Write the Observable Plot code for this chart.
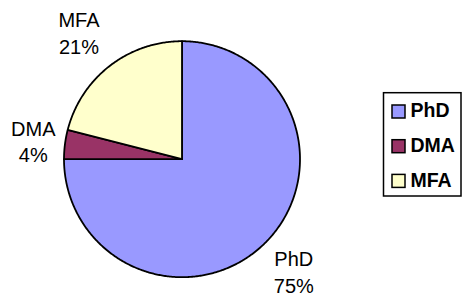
<!DOCTYPE html>
<html><head><meta charset="utf-8">
<script src="https://cdn.jsdelivr.net/npm/d3@7"></script>
<script src="https://cdn.jsdelivr.net/npm/@observablehq/plot@0.6"></script>
<style>body{margin:0;background:#fff}</style>
</head><body><div id="chart"></div>
<script>
// ---- data ----
const categories = ["PhD", "DMA", "MFA"];
const shares = [75, 4, 21];
const shareLabels = ["75%", "4%", "21%"];
const colors = ["#9999FF", "#993366", "#FFFFCC"];

// ---- layout ----
const W = 462, H = 300;
const CX = 181.5, CY = 158.7, R = 118;
const labelDist = [1.34, 1.27, 1.387];
const labelTurn = [0, 0, -1.2]; // degrees
const ux = p => (p - CX) / R;
const uy = p => (CY - p) / R;

const data = categories.map((name, i) => ({name, share: shares[i], label: shareLabels[i], i}));
const arcs = d3.pie().sort(null).value(d => d.share)(data);

const pts = [];
for (const a of arcs) {
  pts.push({name: a.data.name, x: 0, y: 0});
  const n = Math.max(4, Math.ceil((a.endAngle - a.startAngle) / 0.01));
  for (let k = 0; k <= n; k++) {
    const t = a.startAngle + (a.endAngle - a.startAngle) * k / n;
    pts.push({name: a.data.name, x: Math.sin(t), y: Math.cos(t)});
  }
  pts.push({name: a.data.name, x: 0, y: 0});
}
const labelData = arcs.map((a, i) => {
  const m = (a.startAngle + a.endAngle) / 2 + labelTurn[i] * Math.PI / 180;
  return {text: a.data.name + "\n" + a.data.label, x: labelDist[i] * Math.sin(m), y: labelDist[i] * Math.cos(m)};
});

const legTop = 110.5, legStep = 34.7;
const plot = Plot.plot({
  width: W, height: H, margin: 0,
  style: {fontFamily: "'Liberation Sans', Arial, sans-serif", background: "#fff", overflow: "visible"},
  x: {domain: [-1, 1], range: [CX - R, CX + R], axis: null},
  y: {domain: [-1, 1], range: [CY + R, CY - R], axis: null},
  color: {domain: categories, range: colors},
  marks: [
    Plot.line(pts, {x: "x", y: "y", z: "name", fill: "name", stroke: "black", strokeWidth: 1.8, strokeLinejoin: "round", curve: "linear"}),
    Plot.text(labelData, {x: "x", y: "y", text: "text", fontSize: 20, lineHeight: 1.33, lineAnchor: "middle", textAnchor: "middle", fill: "black"}),
    // legend
    Plot.rect([0], {x1: () => ux(383.5), x2: () => ux(461), y1: () => uy(92.7), y2: () => uy(196), fill: "none", stroke: "black", strokeWidth: 1.5}),
    Plot.rect(data, {x1: () => ux(392), x2: () => ux(405), y1: d => uy(legTop + 1 + legStep * d.i - 6.5), y2: d => uy(legTop + 1 + legStep * d.i + 6.5), fill: "name", stroke: "black", strokeWidth: 1.5}),
    Plot.text(data, {x: () => ux(410), y: d => uy(legTop + legStep * d.i), text: "name", textAnchor: "start", lineAnchor: "middle", fontSize: 19.5, fontWeight: "bold", fill: "black"})
  ]
});
document.getElementById("chart").append(plot);
</script>
</body></html>
